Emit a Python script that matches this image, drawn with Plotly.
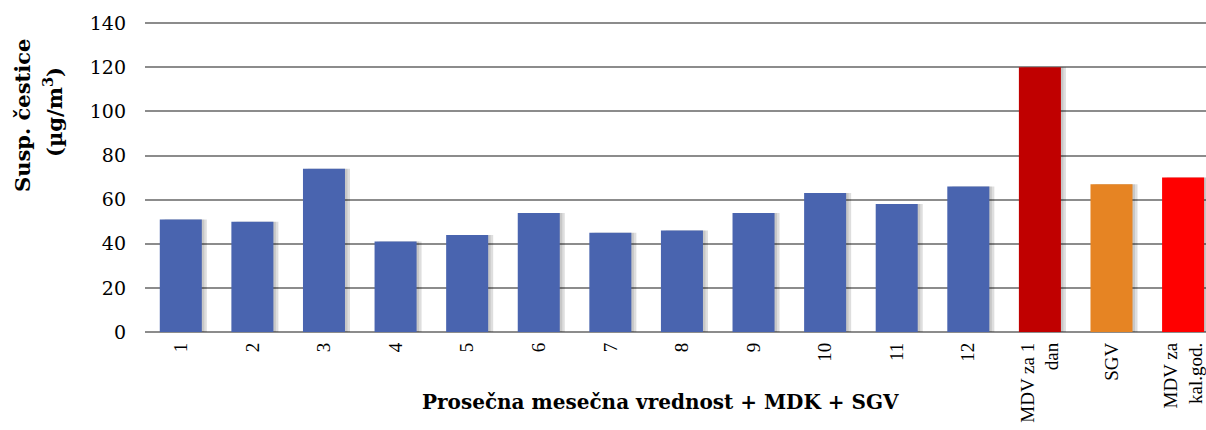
import plotly.graph_objects as go

categories = ["1", "2", "3", "4", "5", "6", "7", "8", "9", "10", "11", "12",
              "MDV za 1<br>dan", "SGV", "MDV za<br>kal.god."]
values = [51, 50, 74, 41, 44, 54, 45, 46, 54, 63, 58, 66, 120, 67, 70]
bar_colors = ["#4964AF"] * 12 + ["#C00000", "#E68423", "#FF0000"]
y_ticks = [0, 20, 40, 60, 80, 100, 120, 140]

x_idx = list(range(len(categories)))
bw = 0.587

fig = go.Figure()
# soft shadow
fig.add_trace(go.Bar(x=x_idx, y=values, width=bw, offset=-bw / 2 + 0.07,
                     marker=dict(color="rgba(0,0,0,0.13)", line=dict(width=0)),
                     hoverinfo="skip", showlegend=False))
fig.add_trace(go.Bar(x=x_idx, y=values, width=bw, offset=-bw / 2 + 0.035,
                     marker=dict(color="rgba(0,0,0,0.10)", line=dict(width=0)),
                     hoverinfo="skip", showlegend=False))
fig.add_trace(go.Bar(x=x_idx, y=values, width=bw, offset=-bw / 2,
                     marker=dict(color=bar_colors, line=dict(width=0)),
                     showlegend=False))

fig.update_layout(
    width=1206, height=430,
    margin=dict(l=145, r=0, t=21, b=98, autoexpand=False),
    barmode="overlay",
    plot_bgcolor="white", paper_bgcolor="white",
    font=dict(family="Liberation Serif", color="#000000"),
    xaxis=dict(
        tickmode="array", tickvals=x_idx, ticktext=categories,
        tickangle=-90, range=[-0.5, 14.32], automargin=False,
        showgrid=False, zeroline=False, showline=False, ticks="",
        ticklabelstandoff=6,
        tickfont=dict(size=19, family="Liberation Serif"),
    ),
    yaxis=dict(
        range=[0, 141], tickvals=y_ticks, automargin=False,
        showgrid=True, gridcolor="#8c8c8c", gridwidth=1.5,
        zeroline=True, zerolinecolor="#8c8c8c", zerolinewidth=1.5,
        showline=False, ticks="", ticklabelstandoff=18,
        tickfont=dict(size=19, family="DejaVu Serif"),
    ),
    annotations=[
        dict(text="<b>Susp. čestice</b>",
             xref="paper", yref="paper", x=(22 - 145) / 1061, y=(332 - 115) / 311,
             xanchor="center", yanchor="middle", textangle=-90,
             showarrow=False, font=dict(size=21, family="DejaVu Serif")),
        dict(text="<b>(µg/m<sup>3</sup>)</b>",
             xref="paper", yref="paper", x=(53 - 145) / 1061, y=(332 - 112) / 311,
             xanchor="center", yanchor="middle", textangle=-90,
             showarrow=False, font=dict(size=21, family="DejaVu Serif")),
        dict(text="<b>Prosečna mesečna vrednost + MDK + SGV</b>",
             xref="paper", yref="paper", x=(660 - 145) / 1061, y=(332 - 402) / 311,
             xanchor="center", yanchor="middle",
             showarrow=False, font=dict(size=20, family="DejaVu Serif")),
    ],
)

fig.write_html("out.html", config={"displayModeBar": False},
               post_script="document.body.style.margin='0';document.body.style.padding='0';")
